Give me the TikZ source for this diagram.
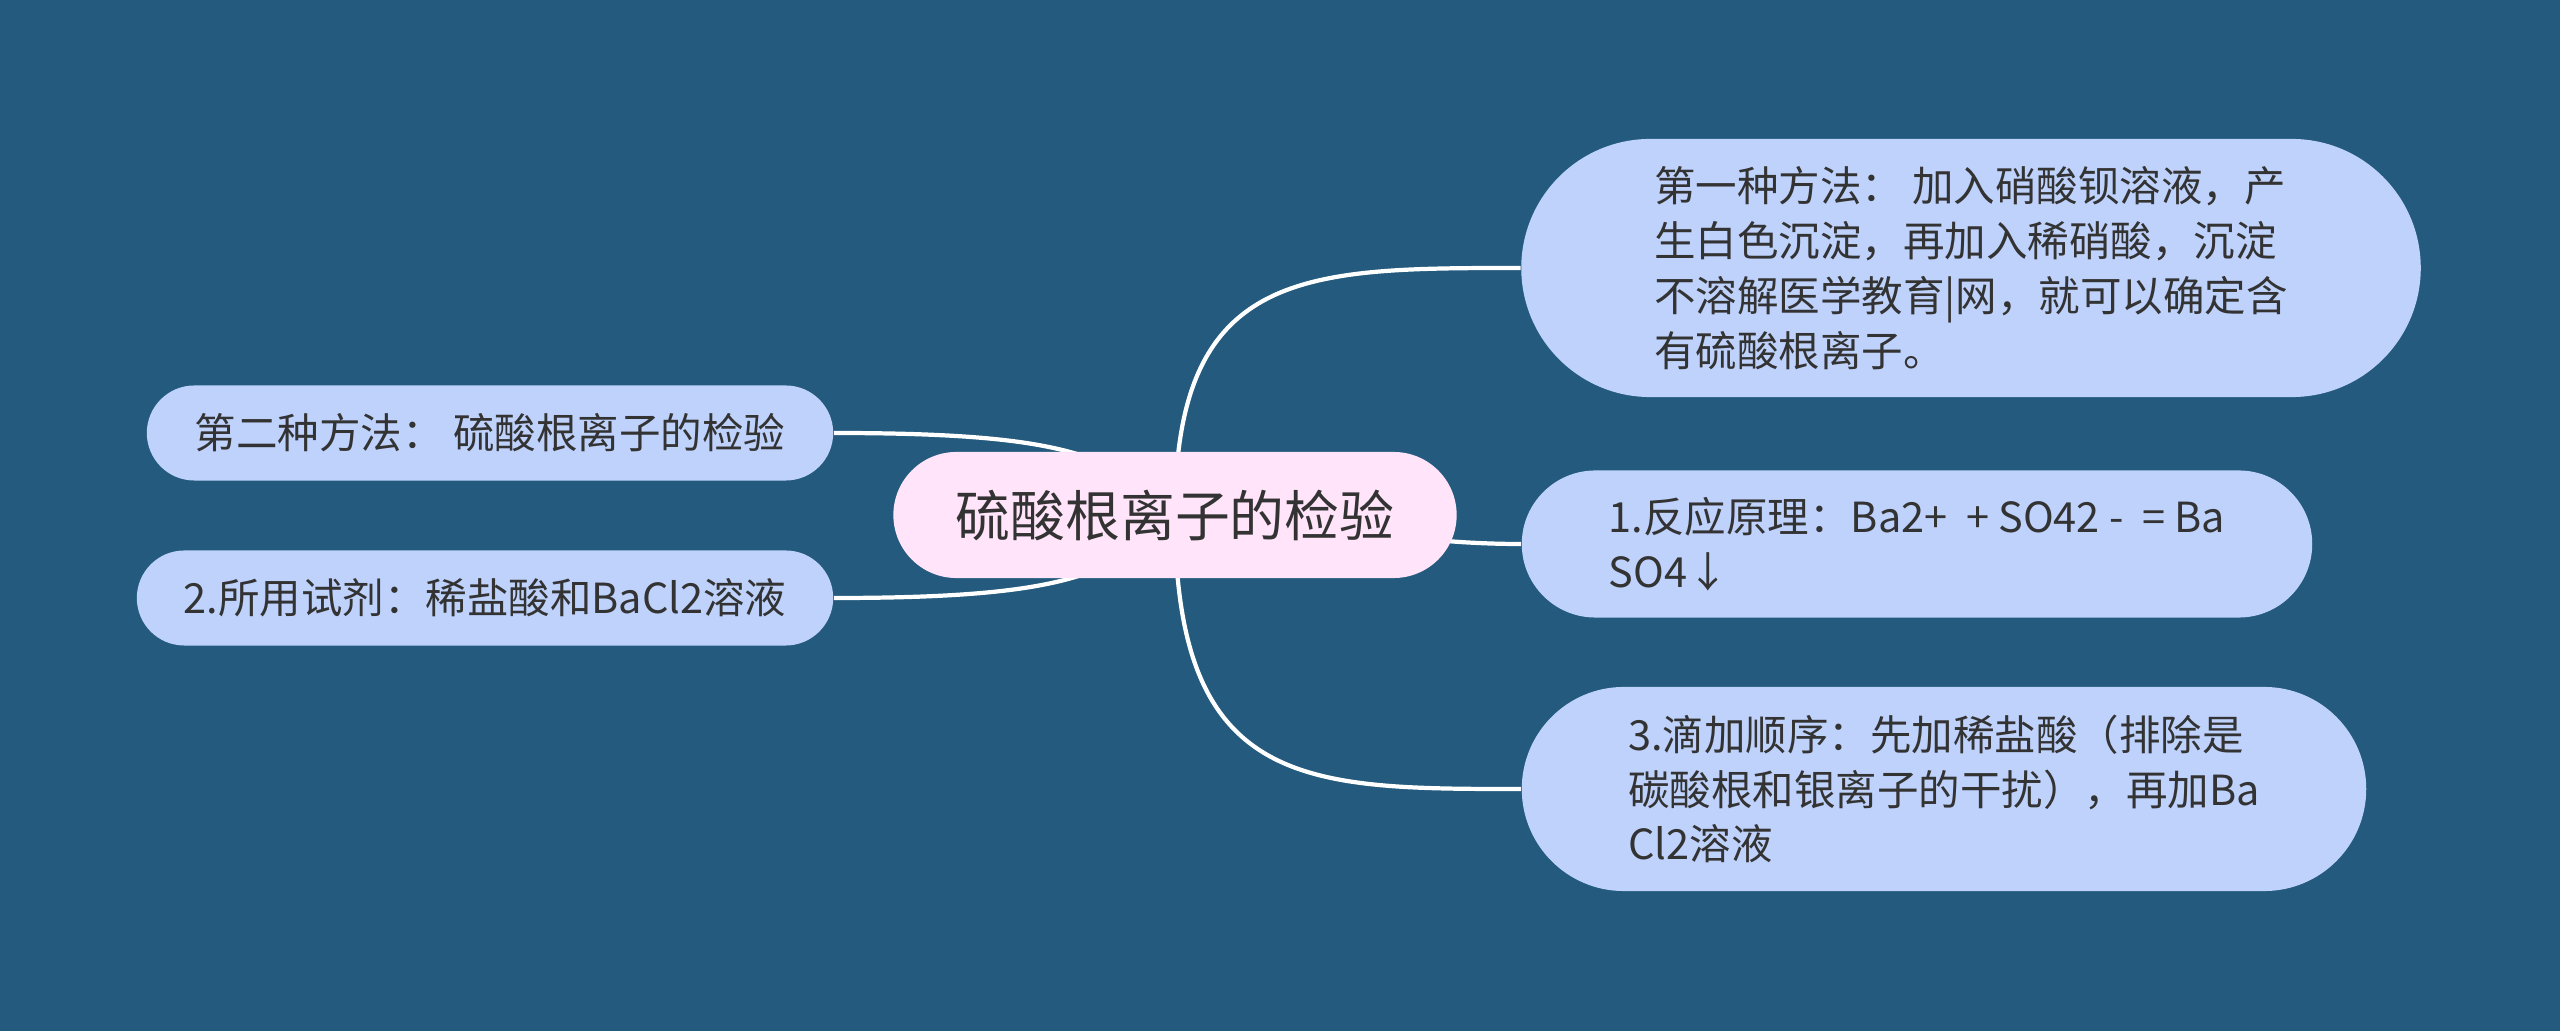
\documentclass[tikz,border=0pt]{standalone}
\usepackage{fontspec}
\setmainfont{Noto Sans CJK SC}
\pgfdeclarelayer{backdrop}
\pgfdeclarelayer{edges}
\pgfsetlayers{backdrop,edges,main}
\definecolor{bgblue}{HTML}{235A7D}
\definecolor{topicblue}{HTML}{BED2FC}
\definecolor{hubpink}{HTML}{FFE4FA}
\definecolor{inkgray}{HTML}{333333}

\begin{document}
\begin{tikzpicture}[x=0.01cm, y=-0.01cm,
  every node/.style={font=\fontsize{11.8}{15.6}\selectfont, text=inkgray},
  topic/.style 2 args={rectangle, fill=topicblue, minimum width=#1,
    minimum height=#2, rounded corners=#2/2, align=left},
  hubnode/.style={rectangle, fill=hubpink, minimum width=5.63cm,
    minimum height=1.26cm, rounded corners=0.63cm,
    font=\fontsize{15.6}{19}\selectfont},
  link/.style={white, line width=1.2pt}]
  % Centre topic, three branches right, two branches left
  \node[hubnode] (hub) at (1175,515) {硫酸根离子的检验};
  \node[topic={8.99cm}{2.58cm}] (r1) at (1971,268) {第一种方法： 加入硝酸钡溶液，产\\
    生白色沉淀，再加入稀硝酸，沉淀\\
    不溶解医学教育|网，就可以确定含\\
    有硫酸根离子。};
  \node[topic={7.90cm}{1.47cm}] (r2) at (1917,544) {1.反应原理：Ba2+ \ + SO42 - \ = Ba\\
    SO4↓};
  \node[topic={8.44cm}{2.04cm}] (r3) at (1944,789) {3.滴加顺序：先加稀盐酸（排除是\\
    碳酸根和银离子的干扰），再加Ba\\
    Cl2溶液};
  \node[topic={6.86cm}{0.95cm}] (l1) at (490,433) {第二种方法： 硫酸根离子的检验};
  \node[topic={6.96cm}{0.95cm}] (l2) at (485,598) {2.所用试剂：稀盐酸和BaCl2溶液};
  % Connectors, kept under the nodes
  \begin{pgfonlayer}{edges}
    \draw[link] (hub.center) .. controls +(0,-247) and +(-216,0) .. (r1.west);
    \draw[link] (hub.center) to[out=0, in=180] (r2.west);
    \draw[link] (hub.center) .. controls +(0,274) and +(-216,0) .. (r3.west);
    \draw[link] (l1.east) .. controls +(230,0) and +(-60,-60) .. (hub.center);
    \draw[link] (l2.east) .. controls +(230,0) and +(-60,60) .. (hub.center);
  \end{pgfonlayer}
  \begin{pgfonlayer}{backdrop}
    \fill[bgblue] (0,0) rectangle (2560,1031);
  \end{pgfonlayer}
\end{tikzpicture}
\end{document}
